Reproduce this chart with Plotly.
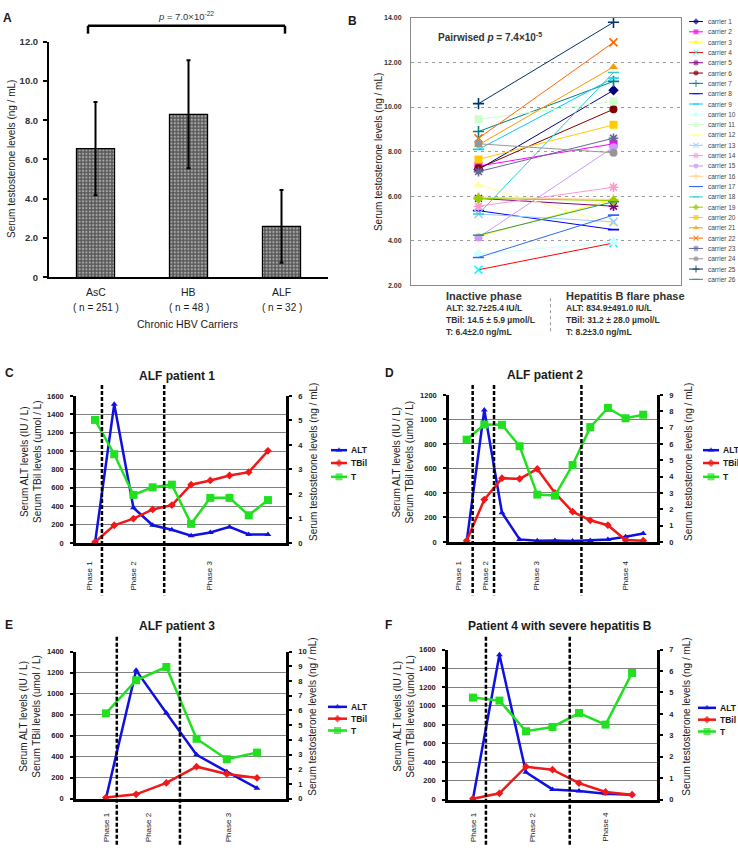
import plotly.graph_objects as go

W, H = 738, 852
FONT = "Arial, 'Liberation Sans', Helvetica, sans-serif"
INK = "#1a1a1a"

# ===================== DATA =====================
# ---- Panel A ----
a_groups = ["AsC", "HB", "ALF"]
a_n = [251, 48, 32]
a_means = [6.55, 8.30, 2.60]
a_sd = [2.37, 2.75, 1.85]
a_yticks = [0, 2, 4, 6, 8, 10, 12]
a_yticktext = ["0", "2.0", "4.0", "6.0", "8.0", "10.0", "12.0"]
a_xtitle = "Chronic HBV Carriers"
a_ytitle = "Serum testosterone levels (ng / mL)"
a_ptext = "<i>p</i> = 7.0×10<sup>-22</sup>"

# ---- Panel B ----
b_carriers = ["carrier %d" % i for i in range(1, 27)]
b_inactive = [7.20, 7.35, 4.20, 2.70, 5.90, 7.25, 8.90, 5.35, 8.10, 3.40, 9.45, 6.50, 5.20,
              5.55, 4.15, 5.95, 3.25, 5.20, 5.90, 7.65, 8.30, 8.60, 7.10, 8.35, 10.15, 4.25]
b_flare = [10.75, 8.35, 5.85, 3.90, 5.55, 9.90, 11.15, 4.50, 11.30, 3.95, 10.25, 4.75, 4.85,
           6.40, 8.20, 5.85, 5.15, 11.55, 5.80, 9.20, 11.80, 12.90, 8.60, 7.95, 13.80, 5.75]
b_line_colors = ["#000080", "#FF00FF", "#FFFF00", "#FF0000", "#800080", "#800000", "#008080",
                 "#0000FF", "#00CCFF", "#CCFFFF", "#CCFFCC", "#FFFF99", "#99CCFF", "#FF99CC",
                 "#CC99FF", "#FFCC99", "#3366FF", "#33CCCC", "#99CC00", "#FFCC00", "#FF9900",
                 "#FF6600", "#666699", "#969696", "#003366", "#339966"]
b_marker_colors = list(b_line_colors)
b_marker_colors[3] = "#00FFFF"
b_symbol_cycle = ["diamond", "square", "triangle-up", "x-thin-open", "asterisk-open",
                  "circle", "cross-thin-open", "line-ew-open", "line-ew-open"]
b_yticks = [2, 4, 6, 8, 10, 12, 14]
b_ytitle = "Serum testosterone levels (ng / mL)"
b_ptext = "Pairwised <i>p</i> = 7.4×10<sup>-5</sup>"
b_phase_titles = ["Inactive phase", "Hepatitis B flare phase"]
b_phase_stats = [["ALT: 32.7±25.4 IU/L", "TBil: 14.5 ± 5.9 µmol/L", "T: 6.4±2.0 ng/mL"],
                 ["ALT: 834.9±491.0 IU/L", "TBil: 31.2 ± 28.0 µmol/L", "T: 8.2±3.0 ng/mL"]]

# ---- Panels C-F ----
series_names = ["ALT", "TBil", "T"]
series_colors = ["#1010E0", "#F01818", "#20E020"]
series_symbols = ["triangle-up", "diamond", "square"]
left_title = "Serum ALT levels (IU / L)<br>Serum TBil levels (umol / L)"
right_title = "Serum testosterone levels (ng / mL)"

c_alt = [0, 1510, 383, 193, 143, 79, 115, 175, 93, 93]
c_tbil = [10, 193, 265, 365, 412, 634, 680, 734, 770, 1002]
c_t = [5.02, 3.62, 1.96, 2.27, 2.38, 0.78, 1.84, 1.84, 1.13, 1.75]
c_bounds = [0.36, 3.6]
c_phases = ["Phase 1", "Phase 2", "Phase 3"]

d_alt = [3, 1077, 239, 21, 11, 13, 8, 13, 21, 43, 70]
d_tbil = [11, 346, 521, 515, 596, 400, 247, 177, 137, 16, 11]
d_t = [6.26, 7.19, 7.17, 5.86, 2.90, 2.84, 4.71, 7.03, 8.20, 7.57, 7.79]
d_bounds = [0.34, 1.55, 6.5]
d_phases = ["Phase 1", "Phase 2", "Phase 3", "Phase 4"]

e_alt = [0, 1221, 815, 417, 257, 100]
e_tbil = [10, 41, 150, 304, 235, 197]
e_t = [5.80, 8.05, 8.95, 4.07, 2.68, 3.13]
e_bounds = [0.36, 2.45]
e_phases = ["Phase 1", "Phase 2", "Phase 3"]

f_alt = [7, 1544, 291, 109, 91, 63, 53]
f_tbil = [10, 67, 351, 319, 175, 81, 53]
f_t = [4.76, 4.62, 3.19, 3.39, 4.04, 3.50, 5.91]
f_bounds = [0.49, 3.65]
f_phases = ["Phase 1", "Phase 2", "Phase 4"]

# ===================== HELPERS =====================
def dxp(x0, x1):
    return [x0 / W, x1 / W]


def dyp(top, bottom):
    return [1 - bottom / H, 1 - top / H]


def px(x):
    return x / W


def py(y):
    return 1 - y / H


annotations = []
shapes = []


def ann(text, x, y, size, bold=False, angle=0, xa="center", ya="middle", color=INK,
        xref="paper", xdata=None):
    if bold:
        text = "<b>%s</b>" % text
    annotations.append(dict(
        text=text, x=(xdata if xref != "paper" else px(x)), y=py(y), xref=xref, yref="paper",
        showarrow=False, textangle=angle, xanchor=xa, yanchor=ya,
        font=dict(family=FONT, size=size, color=color)))


fig = go.Figure()
layout = dict(width=W, height=H, margin=dict(l=0, r=0, t=0, b=0), autosize=False,
              paper_bgcolor="white", plot_bgcolor="rgba(0,0,0,0)", showlegend=False,
              font=dict(family=FONT, color=INK))

# ===================== PANEL A =====================
fig.add_trace(go.Bar(
    x=list(range(len(a_groups))), y=a_means, width=0.41, xaxis="x", yaxis="y",
    marker=dict(color="white", line=dict(color="black", width=1.2),
                pattern=dict(shape="+", fgcolor="#000000", bgcolor="#a8a8a8", size=3.4,
                             solidity=0.62)),
    error_y=dict(type="data", array=a_sd, symmetric=True, color="black", thickness=2, width=2)))
layout["xaxis"] = dict(domain=dxp(49, 328), anchor="y", range=[-0.5, 2.5], showticklabels=False,
                       ticks="", showline=True, linecolor="black", linewidth=2, showgrid=False,
                       zeroline=False)
layout["yaxis"] = dict(domain=dyp(36, 275), anchor="x", range=[0, 12], tickvals=a_yticks,
                       ticktext=a_yticktext, ticks="outside", ticklen=4, tickwidth=1.5,
                       tickcolor="black", showline=True, linecolor="black", linewidth=2,
                       showgrid=False, zeroline=False, ticklabelstandoff=3,
                       tickfont=dict(size=9.5, color="#333", weight="bold"))
for i, g in enumerate(a_groups):
    ann(g, 0, 290, 10.5, xref="x", xdata=i)
    ann("( n = %d )" % a_n[i], 0, 305, 10, xref="x", xdata=i)
ann(a_xtitle, 187, 322, 10.5)
ann(a_ytitle, 12, 155, 10, angle=-90)
ann(a_ptext, 186, 10, 9.5, color="#333")
ann("A", 7, 12, 12, bold=True)
# significance bracket
for (x0, y0, x1, y1) in [(88, 28, 88, 20), (88, 20, 285, 20), (285, 20, 285, 28)]:
    shapes.append(dict(type="line", xref="paper", yref="paper", x0=px(x0), y0=py(y0),
                       x1=px(x1), y1=py(y1), line=dict(color="black", width=2.5)))

# ===================== PANEL B =====================
for i in range(len(b_carriers)):
    sym = b_symbol_cycle[i % len(b_symbol_cycle)]
    is_open = sym.endswith("open")
    fig.add_trace(go.Scatter(
        x=[0, 1], y=[b_inactive[i], b_flare[i]], xaxis="x2", yaxis="y2", mode="lines+markers",
        line=dict(color=b_line_colors[i], width=1),
        marker=dict(symbol=sym, size=8, color=b_marker_colors[i],
                    line=dict(width=1.6 if is_open else 0, color=b_marker_colors[i]))))
layout["xaxis2"] = dict(domain=dxp(411, 681), anchor="y2", range=[-0.5, 1.5],
                        showticklabels=False, ticks="", showline=True, mirror=True,
                        linecolor="#8a8a8a", linewidth=1, showgrid=False, zeroline=False)
layout["yaxis2"] = dict(domain=dyp(12, 283), anchor="x2", range=[2, 14], tickvals=b_yticks,
                        ticktext=["%.2f" % v for v in b_yticks], ticks="", showline=True,
                        mirror=True, linecolor="#8a8a8a", linewidth=1, showgrid=True,
                        gridcolor="#9a9a9a", gridwidth=1, griddash="3px,4px", zeroline=False,
                        ticklabelstandoff=7,
                        tickfont=dict(size=7, color="#333", weight="bold"))
ann(b_ytitle, 378, 148, 10, angle=-90)
ann("B", 352, 15, 12, bold=True)
ann(b_ptext, 436, 31, 10, bold=True, xa="left", color="#333")
col_x = [444, 564]
for j in range(2):
    ann(b_phase_titles[j], col_x[j], 294, 11, bold=True, xa="left", color="#333")
    for k, s in enumerate(b_phase_stats[j]):
        ann(s, col_x[j], 306 + 12 * k, 8.5, bold=True, xa="left", color="#333")
shapes.append(dict(type="line", xref="paper", yref="paper", x0=px(550.5), x1=px(550.5),
                   y0=py(296), y1=py(332), line=dict(color="#999", width=1, dash="dot")))

# legend overlay axis (pixel coordinates of the whole figure)
layout["xaxis7"] = dict(domain=[0, 1], anchor="y11", range=[0, W], visible=False, fixedrange=True)
layout["yaxis11"] = dict(domain=[0, 1], anchor="x7", range=[H, 0], visible=False, fixedrange=True)


def legend_sample(x0, x1, y, lcolor, mcolor, sym, msize, lwidth, mline):
    fig.add_trace(go.Scatter(
        x=[x0, (x0 + x1) / 2, x1], y=[y, y, y], xaxis="x7", yaxis="y11", mode="lines+markers",
        line=dict(color=lcolor, width=lwidth), cliponaxis=False,
        marker=dict(symbol=sym, size=[0, msize, 0], color=mcolor,
                    line=dict(width=mline, color=mcolor))))


for i, name in enumerate(b_carriers):
    y = 15.7 + i * 10.45
    sym = b_symbol_cycle[i % len(b_symbol_cycle)]
    legend_sample(689, 703, y, b_line_colors[i], b_marker_colors[i], sym, 5, 1,
                  1.2 if sym.endswith("open") else 0)
    ann(name, 706, y, 6.5, xa="left", color="#444")

# ===================== PANELS C-F =====================
patients = [
    dict(letter="C", title="ALF patient 1", alt=c_alt, tbil=c_tbil, t=c_t, lmax=1600, rmax=6,
         bounds=c_bounds, phases=c_phases),
    dict(letter="D", title="ALF patient 2", alt=d_alt, tbil=d_tbil, t=d_t, lmax=1200, rmax=9,
         bounds=d_bounds, phases=d_phases),
    dict(letter="E", title="ALF patient 3", alt=e_alt, tbil=e_tbil, t=e_t, lmax=1400, rmax=10,
         bounds=e_bounds, phases=e_phases),
    dict(letter="F", title="Patient 4 with severe hepatitis B", alt=f_alt, tbil=f_tbil, t=f_t,
         lmax=1600, rmax=7, bounds=f_bounds, phases=f_phases),
]
# layout geometry (pixels)
geom = [
    dict(xpx=(76, 286), ypx=(395, 544), xr=(-0.99, 9.94), dash=(384, 597), lab_y=577,
         lab_x=[-0.31, 1.98, 5.98], letter=(3, 372), title=(177, 375), lt=31, rt=313, tc=462,
         leg=(331, 347, [450, 463, 477])),
    dict(xpx=(449, 657), ypx=(394, 543), xr=(-1.0, 10.78), dash=(384, 597), lab_y=577,
         lab_x=[-0.44, 1.09, 3.98, 9.02], letter=(383, 372), title=(545, 374), lt=403.5,
         rt=688, tc=462, leg=(703, 719, [450, 463, 477])),
    dict(xpx=(76, 286), ypx=(654, 803), xr=(-0.99, 5.96), dash=(639, 850), lab_y=832,
         lab_x=[0.0, 1.39, 4.04], letter=(3, 627), title=(177, 628), lt=30, rt=313, tc=720,
         leg=(328, 347, [710, 722, 734])),
    dict(xpx=(448, 657), ypx=(652, 804), xr=(-0.94, 6.94), dash=(639, 850), lab_y=832,
         lab_x=[0.0, 2.23, 5.0], letter=(383, 627), title=(560, 628), lt=404, rt=687, tc=720,
         leg=(698, 716, [711, 723, 735])),
]

for k, (p, g) in enumerate(zip(patients, geom)):
    xid = 3 + k
    ylid = 3 + 2 * k
    yrid = 4 + 2 * k
    xa, yl, yr = "x%d" % xid, "y%d" % ylid, "y%d" % yrid
    n = len(p["alt"])
    xs = list(range(n))
    vals = [p["alt"], p["tbil"], p["t"]]
    for s in range(3):
        fig.add_trace(go.Scatter(
            x=xs, y=vals[s], xaxis=xa, yaxis=(yr if s == 2 else yl), mode="lines+markers",
            line=dict(color=series_colors[s], width=2.5), cliponaxis=False,
            marker=dict(symbol=series_symbols[s], size=(8 if s == 2 else 6),
                        color=series_colors[s], line=dict(width=0))))
    layout["xaxis%d" % xid] = dict(domain=dxp(*g["xpx"]), anchor=yl, range=list(g["xr"]),
                                   showticklabels=False, ticks="", showline=True,
                                   linecolor="black", linewidth=2.5, showgrid=False,
                                   zeroline=False)
    layout["yaxis%d" % ylid] = dict(domain=dyp(*g["ypx"]), anchor=xa, range=[0, p["lmax"]],
                                    tickvals=list(range(0, p["lmax"] + 1, 200)), ticks="outside",
                                    ticklen=3, tickwidth=1.5, tickcolor="black", showline=True,
                                    linecolor="black", linewidth=2.5, showgrid=True,
                                    gridcolor="#808080", gridwidth=1, zeroline=False,
                                    ticklabelstandoff=5,
                                    tickfont=dict(size=7.5, color="#222", weight="bold"))
    layout["yaxis%d" % yrid] = dict(overlaying=yl, anchor=xa, side="right",
                                    range=[0, p["rmax"]], tickvals=list(range(0, p["rmax"] + 1)),
                                    ticks="outside", ticklen=3, tickwidth=1.5, tickcolor="black",
                                    showline=True, linecolor="black", linewidth=2.5,
                                    showgrid=False, zeroline=False, ticklabelstandoff=5,
                                    tickfont=dict(size=7.5, color="#222", weight="bold"))
    # phase boundaries
    for b in p["bounds"]:
        shapes.append(dict(type="line", xref=xa, yref="paper", x0=b, x1=b,
                           y0=py(g["dash"][0]), y1=py(g["dash"][1]),
                           line=dict(color="black", width=2.5, dash="4px,2px")))
    for lab, lx in zip(p["phases"], g["lab_x"]):
        ann(lab, 0, g["lab_y"], 8, angle=-90, xref=xa, xdata=lx, color="#222")
    ann(p["letter"], g["letter"][0], g["letter"][1], 12, bold=True, xa="left")
    ann(p["title"], g["title"][0], g["title"][1], 12, bold=True)
    ann(left_title, g["lt"], g["tc"], 10, angle=-90)
    ann(right_title, g["rt"], g["tc"], 10, angle=-90)
    lx0, lx1, lys = g["leg"]
    for s in range(3):
        legend_sample(lx0, lx1, lys[s], series_colors[s], series_colors[s], series_symbols[s],
                      7 if s == 2 else 6, 2.5, 0)
        ann(series_names[s], lx1 + 2, lys[s], 8.5, bold=True, xa="left")

layout["annotations"] = annotations
layout["shapes"] = shapes
fig.update_layout(**layout)
fig.write_html("out.html")
